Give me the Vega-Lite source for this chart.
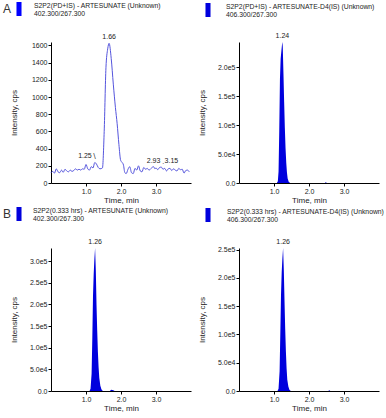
{
  "$schema": "https://vega.github.io/schema/vega-lite/v6.json",
  "padding": {"left": 3, "top": 2, "right": 0, "bottom": 0},
  "background": "white",
  "datasets": {
    "a": [
      {"t":0.00,"v":120},{"t":0.05,"v":135},{"t":0.10,"v":115},{"t":0.15,"v":165},{"t":0.20,"v":130},
      {"t":0.25,"v":120},{"t":0.30,"v":150},{"t":0.35,"v":125},{"t":0.40,"v":160},{"t":0.45,"v":140},
      {"t":0.50,"v":130},{"t":0.55,"v":150},{"t":0.60,"v":135},{"t":0.65,"v":145},{"t":0.70,"v":165},
      {"t":0.75,"v":150},{"t":0.80,"v":160},{"t":0.85,"v":150},{"t":0.90,"v":165},{"t":0.95,"v":160},
      {"t":1.00,"v":215},{"t":1.05,"v":165},{"t":1.10,"v":150},{"t":1.15,"v":190},{"t":1.20,"v":175},
      {"t":1.25,"v":238},{"t":1.30,"v":220},{"t":1.35,"v":180},{"t":1.40,"v":165},{"t":1.47,"v":175},
      {"t":1.52,"v":600},{"t":1.57,"v":1340},{"t":1.62,"v":1560},{"t":1.66,"v":1625},{"t":1.72,"v":1450},
      {"t":1.78,"v":1150},{"t":1.84,"v":880},{"t":1.89,"v":690},{"t":1.94,"v":450},{"t":1.99,"v":264},
      {"t":2.03,"v":240},{"t":2.07,"v":210},{"t":2.11,"v":120},{"t":2.15,"v":110},{"t":2.20,"v":160},
      {"t":2.25,"v":190},{"t":2.30,"v":120},{"t":2.35,"v":110},{"t":2.40,"v":170},{"t":2.45,"v":150},
      {"t":2.50,"v":200},{"t":2.55,"v":140},{"t":2.60,"v":130},{"t":2.65,"v":180},{"t":2.70,"v":160},
      {"t":2.75,"v":170},{"t":2.80,"v":150},{"t":2.86,"v":170},{"t":2.93,"v":190},{"t":2.97,"v":165},
      {"t":3.00,"v":175},{"t":3.05,"v":155},{"t":3.10,"v":180},{"t":3.15,"v":185},{"t":3.20,"v":160},
      {"t":3.25,"v":170},{"t":3.30,"v":140},{"t":3.35,"v":165},{"t":3.40,"v":170},{"t":3.45,"v":145},
      {"t":3.50,"v":165},{"t":3.55,"v":150},{"t":3.60,"v":140},{"t":3.65,"v":170},{"t":3.70,"v":155},
      {"t":3.75,"v":160},{"t":3.80,"v":115},{"t":3.85,"v":145},{"t":3.90,"v":150},{"t":3.95,"v":130}
    ],
    "aLabels": [
      {"t":1.66,"v":1625,"label":"1.66"},
      {"t":2.93,"v":190,"label":"2.93"}
    ],
    "aLabelsLeft": [{"t":1.25,"v":238,"label":"1.25\u2216"}],
    "aLabelsRight": [{"t":3.15,"v":185,"label":"\u02ce3.15"}],
    "b": [
      {"t":0.0,"v":0},{"t":1.08,"v":0},{"t":1.11,"v":3000},{"t":1.13,"v":20000},{"t":1.15,"v":90000},
      {"t":1.17,"v":180000},{"t":1.19,"v":215000},{"t":1.21,"v":228000},{"t":1.23,"v":240000},{"t":1.24,"v":244000},
      {"t":1.25,"v":236000},{"t":1.27,"v":190000},{"t":1.29,"v":140000},{"t":1.31,"v":95000},{"t":1.33,"v":60000},
      {"t":1.35,"v":35000},{"t":1.37,"v":18000},{"t":1.39,"v":8000},{"t":1.42,"v":2000},{"t":1.46,"v":0},
      {"t":2.45,"v":0},{"t":2.48,"v":1500},{"t":2.51,"v":0},{"t":4.0,"v":0}
    ],
    "bLabels": [{"t":1.24,"v":244000,"label":"1.24"}],
    "c": [
      {"t":0.0,"v":0},{"t":1.10,"v":0},{"t":1.13,"v":5000},{"t":1.16,"v":40000},{"t":1.18,"v":120000},
      {"t":1.20,"v":220000},{"t":1.22,"v":270000},{"t":1.24,"v":305000},{"t":1.26,"v":330000},{"t":1.28,"v":280000},
      {"t":1.30,"v":200000},{"t":1.32,"v":140000},{"t":1.34,"v":90000},{"t":1.36,"v":55000},{"t":1.38,"v":30000},
      {"t":1.41,"v":12000},{"t":1.44,"v":4000},{"t":1.48,"v":0},{"t":1.68,"v":0},{"t":1.72,"v":3000},
      {"t":1.78,"v":2000},{"t":1.82,"v":0},{"t":4.0,"v":0}
    ],
    "cLabels": [{"t":1.26,"v":330000,"label":"1.26"}],
    "d": [
      {"t":0.0,"v":0},{"t":1.10,"v":0},{"t":1.13,"v":4000},{"t":1.16,"v":35000},{"t":1.18,"v":100000},
      {"t":1.20,"v":170000},{"t":1.22,"v":210000},{"t":1.24,"v":235000},{"t":1.26,"v":253000},{"t":1.28,"v":215000},
      {"t":1.30,"v":160000},{"t":1.32,"v":110000},{"t":1.34,"v":70000},{"t":1.36,"v":40000},{"t":1.38,"v":20000},
      {"t":1.41,"v":8000},{"t":1.44,"v":2000},{"t":1.48,"v":0},{"t":2.55,"v":0},{"t":2.58,"v":1500},
      {"t":2.61,"v":0},{"t":4.0,"v":0}
    ],
    "dLabels": [{"t":1.26,"v":253000,"label":"1.26"}]
  },
  "columns": 2,
  "spacing": {"row": 3, "column": 6},
  "resolve": {"scale": {"color": "independent", "x": "independent", "y": "independent"}, "legend": {"color": "independent"}},
  "concat": [
    {
      "width": 140, "height": 141,
      "title": {"text": ["S2P2(PD+IS) - ARTESUNATE (Unknown)", "402.300/267.300"], "dx": -17, "offset": -16},
      "encoding": {
        "x": {"field": "t", "type": "quantitative", "scale": {"domain": [0, 4]}, "axis": {"values": [1, 2, 3], "format": ".1f", "title": "Time, min"}},
        "y": {"field": "v", "type": "quantitative", "scale": {"domain": [0, 1640], "nice": false}, "axis": {"values": [0,200,400,600,800,1000,1200,1400,1600], "format": "d", "title": "Intensity, cps"}}
      },
      "layer": [
        {
          "data": {"name": "a"},
          "mark": {"type": "line", "strokeWidth": 1, "interpolate": "monotone"},
          "encoding": {
            "color": {"datum": "S2P2(PD+IS) - ARTESUNATE", "scale": {"range": ["#5555dd"]},
              "legend": {"orient": "none", "legendX": -48, "legendY": -40, "title": "A", "titleOrient": "left", "titleFontSize": 12, "titleFontWeight": "normal", "titlePadding": 0, "titleColor": "#333", "symbolType": "M-0.36,-1H0.36V1H-0.36Z", "symbolSize": 196, "labelExpr": "''", "padding": 0,
                "encode": {"symbols": {"update": {"fill": {"value": "#0000ff"}, "stroke": {"value": "#0000ff"}, "strokeWidth": {"value": 0}, "opacity": {"value": 1}}}}}}
          }
        },
        {
          "data": {"name": "aLabels"},
          "mark": {"type": "text", "dy": -6, "fontSize": 7, "color": "#222"},
          "encoding": {"text": {"field": "label"}}
        },
        {
          "data": {"name": "aLabelsLeft"},
          "mark": {"type": "text", "dy": -7, "dx": 1, "align": "right", "fontSize": 7, "color": "#222"},
          "encoding": {"text": {"field": "label"}}
        },
        {
          "data": {"name": "aLabelsRight"},
          "mark": {"type": "text", "dy": -6, "dx": 1, "align": "left", "fontSize": 7, "color": "#222"},
          "encoding": {"text": {"field": "label"}}
        }
      ]
    },
    {
      "width": 140, "height": 141,
      "title": {"text": ["S2P2(PD+IS) - ARTESUNATE-D4(IS) (Unknown)", "406.300/267.300"], "dx": -13, "offset": -16},
      "encoding": {
        "x": {"field": "t", "type": "quantitative", "scale": {"domain": [0, 4]}, "axis": {"values": [1, 2, 3], "format": ".1f", "title": "Time, min"}},
        "y": {"field": "v", "type": "quantitative", "scale": {"domain": [0, 244000], "nice": false}, "axis": {"values": [0,50000,100000,150000,200000], "labelExpr": "datum.value == 0 ? '0.0' : replace(format(datum.value, '.1e'), '+', '')", "title": "Intensity, cps"}}
      },
      "layer": [
        {
          "data": {"name": "b"},
          "mark": {"type": "area", "interpolate": "linear"},
          "encoding": {
            "color": {"datum": "S2P2(PD+IS) - ARTESUNATE-D4(IS)", "scale": {"range": ["#0000dd"]},
              "legend": {"orient": "none", "legendX": -38, "legendY": -39, "title": null, "symbolType": "M-0.36,-1H0.36V1H-0.36Z", "symbolSize": 196, "labelExpr": "''", "padding": 0,
                "encode": {"symbols": {"update": {"fill": {"value": "#0000ff"}, "strokeWidth": {"value": 0}, "opacity": {"value": 1}}}}}}
          }
        },
        {
          "data": {"name": "bLabels"},
          "mark": {"type": "text", "dy": -6, "fontSize": 7, "color": "#222"},
          "encoding": {"text": {"field": "label"}}
        }
      ]
    },
    {
      "width": 140, "height": 143,
      "title": {"text": ["S2P2(0.333 hrs) - ARTESUNATE (Unknown)", "402.300/267.300"], "dx": -18, "offset": -16},
      "encoding": {
        "x": {"field": "t", "type": "quantitative", "scale": {"domain": [0, 4]}, "axis": {"values": [1, 2, 3], "format": ".1f", "title": "Time, min"}},
        "y": {"field": "v", "type": "quantitative", "scale": {"domain": [0, 330000], "nice": false}, "axis": {"values": [0,50000,100000,150000,200000,250000,300000], "labelExpr": "datum.value == 0 ? '0.0' : replace(format(datum.value, '.1e'), '+', '')", "title": "Intensity, cps"}}
      },
      "layer": [
        {
          "data": {"name": "c"},
          "mark": {"type": "area", "interpolate": "linear"},
          "encoding": {
            "color": {"datum": "S2P2(0.333 hrs) - ARTESUNATE", "scale": {"range": ["#0000dd"]},
              "legend": {"orient": "none", "legendX": -48, "legendY": -41, "title": "B", "titleOrient": "left", "titleFontSize": 12, "titleFontWeight": "normal", "titlePadding": 0, "titleColor": "#333", "symbolType": "M-0.36,-1H0.36V1H-0.36Z", "symbolSize": 196, "labelExpr": "''", "padding": 0,
                "encode": {"symbols": {"update": {"fill": {"value": "#0000ff"}, "strokeWidth": {"value": 0}, "opacity": {"value": 1}}}}}}
          }
        },
        {
          "data": {"name": "cLabels"},
          "mark": {"type": "text", "dy": -6, "fontSize": 7, "color": "#222"},
          "encoding": {"text": {"field": "label"}}
        }
      ]
    },
    {
      "width": 140, "height": 143,
      "title": {"text": ["S2P2(0.333 hrs) - ARTESUNATE-D4(IS) (Unknown)", "406.300/267.300"], "dx": -12, "offset": -16},
      "encoding": {
        "x": {"field": "t", "type": "quantitative", "scale": {"domain": [0, 4]}, "axis": {"values": [1, 2, 3], "format": ".1f", "title": "Time, min"}},
        "y": {"field": "v", "type": "quantitative", "scale": {"domain": [0, 253000], "nice": false}, "axis": {"values": [0,50000,100000,150000,200000,250000], "labelExpr": "datum.value == 0 ? '0.0' : replace(format(datum.value, '.1e'), '+', '')", "title": "Intensity, cps"}}
      },
      "layer": [
        {
          "data": {"name": "d"},
          "mark": {"type": "area", "interpolate": "linear"},
          "encoding": {
            "color": {"datum": "S2P2(0.333 hrs) - ARTESUNATE-D4(IS)", "scale": {"range": ["#0000dd"]},
              "legend": {"orient": "none", "legendX": -38, "legendY": -40, "title": null, "symbolType": "M-0.36,-1H0.36V1H-0.36Z", "symbolSize": 196, "labelExpr": "''", "padding": 0,
                "encode": {"symbols": {"update": {"fill": {"value": "#0000ff"}, "strokeWidth": {"value": 0}, "opacity": {"value": 1}}}}}}
          }
        },
        {
          "data": {"name": "dLabels"},
          "mark": {"type": "text", "dy": -6, "fontSize": 7, "color": "#222"},
          "encoding": {"text": {"field": "label"}}
        }
      ]
    }
  ],
  "config": {
    "font": "Liberation Sans",
    "view": {"stroke": null},
    "axis": {"grid": false, "domainColor": "#000", "tickColor": "#000", "tickSize": 3, "labelFontSize": 7, "labelColor": "#222", "labelPadding": 1, "titleFontSize": 8, "titleFontWeight": "normal", "titleColor": "#222"},
    "axisY": {"titleX": -37, "titleBaseline": "middle", "titleAlign": "center"},
    "axisX": {"titleY": 17, "titleBaseline": "middle"},
    "title": {"anchor": "start", "frame": "group", "fontSize": 6.8, "fontWeight": "normal", "color": "#222", "lineHeight": 8.5, "baseline": "bottom"}
  }
}
